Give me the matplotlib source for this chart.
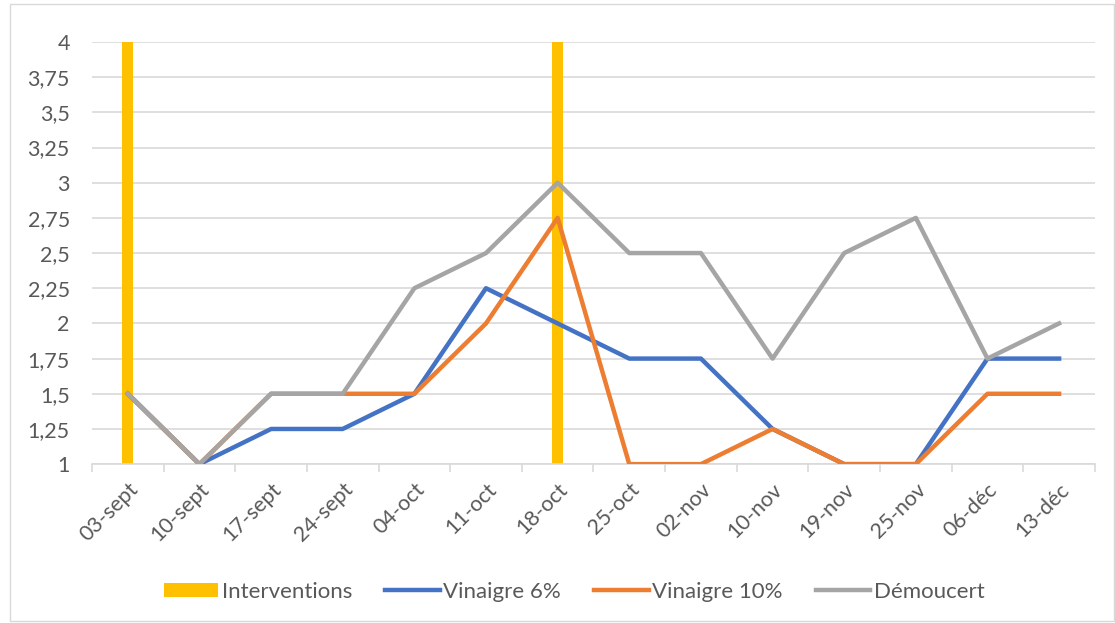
import numpy as np
import matplotlib
matplotlib.use('Agg')
import matplotlib.pyplot as plt
from matplotlib.ticker import FixedLocator, FuncFormatter
from matplotlib.patches import Rectangle

# --- données ---
dates = ['03-sept', '10-sept', '17-sept', '24-sept', '04-oct', '11-oct', '18-oct',
         '25-oct', '02-nov', '10-nov', '19-nov', '25-nov', '06-déc', '13-déc']
interventions = [4, 0, 0, 0, 0, 0, 4, 0, 0, 0, 0, 0, 0, 0]
vinaigre_6 = [1.5, 1, 1.25, 1.25, 1.5, 2.25, 2, 1.75, 1.75, 1.25, 1, 1, 1.75, 1.75]
vinaigre_10 = [1.5, 1, 1.5, 1.5, 1.5, 2, 2.75, 1, 1, 1.25, 1, 1, 1.5, 1.5]
demoucert = [1.5, 1, 1.5, 1.5, 2.25, 2.5, 3, 2.5, 2.5, 1.75, 2.5, 2.75, 1.75, 2]
y_ticks = [1, 1.25, 1.5, 1.75, 2, 2.25, 2.5, 2.75, 3, 3.25, 3.5, 3.75, 4]

plt.rcParams['font.family'] = ['Lato', 'DejaVu Sans']
txt_color = '#595959'

fig = plt.figure(figsize=(11.15, 6.23), dpi=100)
ax = fig.add_axes([0.0825, 0.255, 0.8995, 0.6776])

x = np.arange(len(dates))
y_min = 1
# barres des interventions (partent du bas de l'axe comme dans Excel)
bars = ax.bar(x, [v - y_min if v > 0 else 0 for v in interventions], bottom=y_min,
              width=0.15, color='#ffc000', label='Interventions', zorder=2)
l6, = ax.plot(x, vinaigre_6, color='#4472c4', lw=3.2, label='Vinaigre 6%', zorder=3)
l10, = ax.plot(x, vinaigre_10, color='#ed7d31', lw=3.2, label='Vinaigre 10%', zorder=4)
ld, = ax.plot(x, demoucert, color='#a5a5a5', lw=3.2, label='Démoucert', zorder=5)

ax.set_xlim(-0.5, len(dates) - 0.5)
ax.set_ylim(1, 4)
ax.yaxis.set_major_locator(FixedLocator(y_ticks))
ax.yaxis.set_major_formatter(FuncFormatter(lambda v, p: ('%g' % v).replace('.', ',')))
ax.grid(axis='y', color='#d9d9d9', lw=1.2, zorder=0)
ax.set_axisbelow(True)

ax.set_xticks(x)
ax.set_xticklabels(dates, rotation=45, ha='right', rotation_mode='anchor')
ax.set_xticks(np.arange(-0.5, len(dates)), minor=True)
ax.tick_params(axis='x', which='major', length=0, pad=11, labelsize=15.5, labelcolor=txt_color)
ax.tick_params(axis='x', which='minor', length=6, color='#d9d9d9', width=1.2)
ax.tick_params(axis='y', length=0, pad=16, labelsize=15.5, labelcolor=txt_color)

for s in ['top', 'right', 'left']:
    ax.spines[s].set_visible(False)
ax.spines['bottom'].set_color('#d9d9d9')
ax.spines['bottom'].set_linewidth(1.2)

leg = fig.legend([bars, l6, l10, ld], ['Interventions', 'Vinaigre 6%', 'Vinaigre 10%', 'Démoucert'],
                 loc='center', bbox_to_anchor=(0.515, 0.05), ncol=4, frameon=False,
                 fontsize=16, handlelength=2.45, handleheight=0.6, handletextpad=0.15,
                 columnspacing=1.5)
for t in leg.get_texts():
    t.set_color(txt_color)

# cadre du graphique
fig.patches.append(Rectangle((0.009, 0.003), 0.99, 0.99, transform=fig.transFigure,
                             fill=False, edgecolor='#d9d9d9', lw=1))

fig.savefig('out.png', dpi=100)
